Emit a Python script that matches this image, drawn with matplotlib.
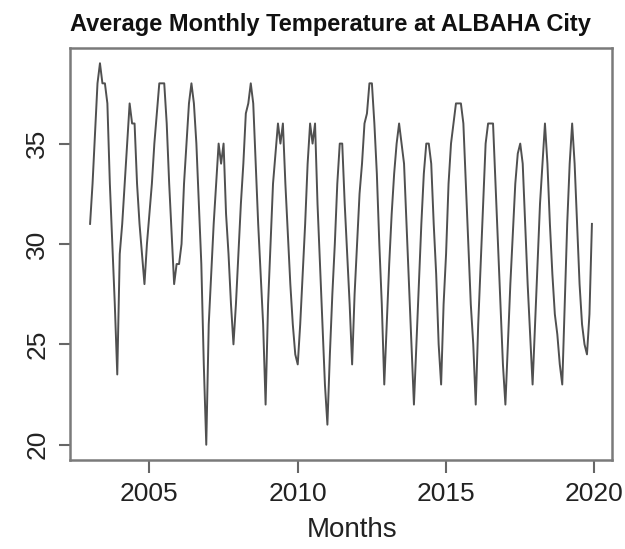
import matplotlib
matplotlib.use("Agg")
import matplotlib.pyplot as plt
import numpy as np

# Monthly values, Jan 2003 .. Dec 2019
y2003 = [31, 33, 35.5, 38, 39, 38, 38, 37, 33, 30, 27, 23.5]
y2004 = [29.5, 31, 33, 35, 37, 36, 36, 33, 31, 29.5, 28, 30]
y2005 = [31.5, 33, 35, 36.5, 38, 38, 38, 36, 33, 30.5, 28, 29]
y2006 = [29, 30, 33, 35, 37, 38, 37, 35, 32, 29, 24, 20]
y2007 = [26, 28.5, 31, 33, 35, 34, 35, 31.5, 29.5, 27, 25, 27]
y2008 = [29.5, 32, 34, 36.5, 37, 38, 37, 34, 31, 28.5, 26, 22]
y2009 = [27, 30, 33, 34.5, 36, 35, 36, 33, 30.5, 28, 26, 24.5]
y2010 = [24, 26, 28.5, 31, 34, 36, 35, 36, 32, 29, 26, 23]
y2011 = [21, 24.5, 27.5, 30, 33, 35, 35, 32, 29.5, 27, 24, 27.5]
y2012 = [30, 32.5, 34, 36, 36.5, 38, 38, 36, 33.5, 30, 27, 23]
y2013 = [26, 29, 31.5, 33.5, 35, 36, 35, 34, 31, 28, 25, 22]
y2014 = [25, 28, 31, 33.5, 35, 35, 34, 31, 28.5, 25, 23, 27]
y2015 = [29.5, 33, 35, 36, 37, 37, 37, 36, 33, 30, 27, 25]
y2016 = [22, 26, 29, 32, 35, 36, 36, 36, 33, 30, 27, 24]
y2017 = [22, 25, 28, 30.5, 33, 34.5, 35, 34, 31, 28, 25.5, 23]
y2018 = [26, 29, 32, 34, 36, 34, 31, 28.5, 26.5, 25.5, 24, 23]
y2019 = [27, 31, 34, 36, 34, 31, 28, 26, 25, 24.5, 26.5, 31]

temps = (y2003 + y2004 + y2005 + y2006 + y2007 + y2008 + y2009 + y2010 +
         y2011 + y2012 + y2013 + y2014 + y2015 + y2016 + y2017 + y2018 + y2019)
start_year = 2003
x_ticks = [2005, 2010, 2015, 2020]
y_ticks = [20, 25, 30, 35]
title = "Average Monthly Temperature at ALBAHA City"
xlabel = "Months"

font = "Liberation Sans"
t = start_year + np.arange(len(temps)) / 12.0

fig = plt.figure(figsize=(6.25, 5.49), dpi=100)
ax = fig.add_axes([70/625, 1-460/549, (612-70)/625, (460-48)/549])
ax.plot(t, temps, color="#505050", lw=1.4)

rng = t[-1] - t[0]
ax.set_xlim(t[0] - 0.04*rng, t[-1] + 0.04*rng)
ymin, ymax = min(temps), max(temps)
ax.set_ylim(ymin - 0.04*(ymax-ymin), ymax + 0.04*(ymax-ymin))

ax.set_xticks(x_ticks)
ax.set_xticklabels([str(v) for v in x_ticks], fontsize=19, family=font, color="#222222")
ax.set_yticks(y_ticks)
ax.set_yticklabels([str(v) for v in y_ticks], fontsize=19, family=font, color="#222222",
                   rotation=90, va="center")
ax.tick_params(axis="x", length=9, width=1.5, color="#666666", pad=7)
ax.tick_params(axis="y", length=8, width=1.5, color="#666666", pad=7)
for s in ax.spines.values():
    s.set_color("#7a7a7a")
    s.set_linewidth(1.8)

fig.text(330/625, 1-25/549, title, ha="center", va="center", fontsize=17,
         fontweight="bold", family=font, color="#111111")
fig.text(352/625, 1-530/549, xlabel, ha="center", va="center", fontsize=20,
         family=font, color="#222222")

fig.savefig("out.png", dpi=100)
